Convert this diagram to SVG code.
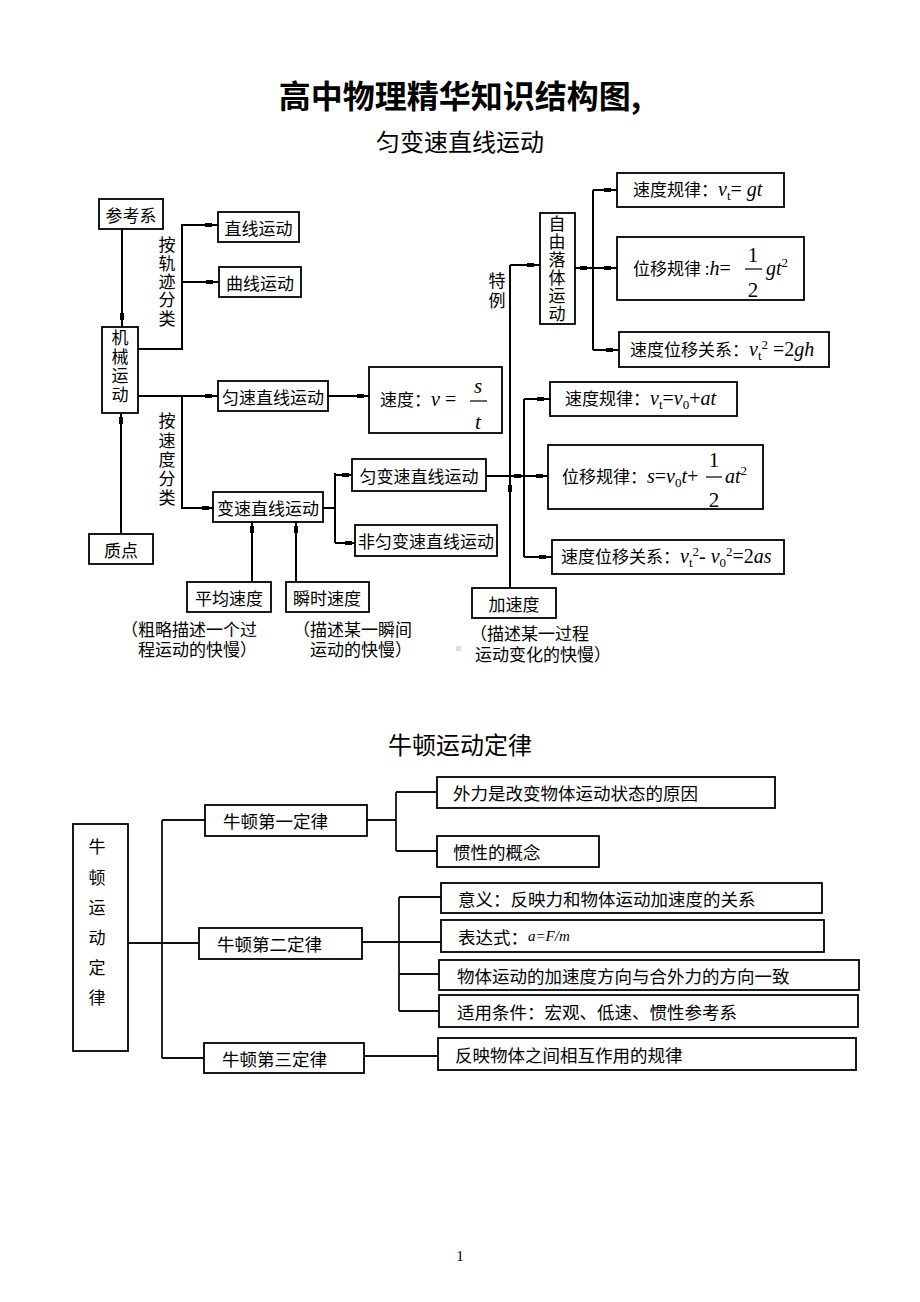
<svg xmlns="http://www.w3.org/2000/svg" width="920" height="1302" viewBox="0 0 920 1302">
<style>
.b{fill:#fff;stroke:#000;stroke-width:1.8}
.c{fill:none;stroke:#000;stroke-width:2}
.c2{fill:none;stroke:#111;stroke-width:1.8}
.k{fill:#000}
.t{font-family:"Noto Sans CJK SC","Liberation Sans",sans-serif;font-size:17px;fill:#000}
.tc{font-family:"Noto Sans CJK SC","Liberation Sans",sans-serif;font-size:17px;fill:#000;text-anchor:middle;dominant-baseline:central}
.v{font-family:"Noto Sans CJK SC","Liberation Sans",sans-serif;font-size:17px;fill:#000;writing-mode:vertical-rl;text-anchor:start}
.n{font-family:"Noto Sans CJK SC","Liberation Sans",sans-serif;font-size:17.5px;fill:#000;dominant-baseline:central}
.h{font-family:"Noto Sans CJK SC","Liberation Sans",sans-serif;fill:#000;text-anchor:middle}
.m{font-family:"Liberation Serif",serif;font-size:20px;font-style:italic}
.mr{font-family:"Liberation Serif",serif;font-size:20px;font-style:normal}
.ms{font-family:"Liberation Serif",serif;font-size:13px;font-style:normal}
.fd{font-family:"Liberation Serif",serif;font-size:21px;text-anchor:middle;fill:#000}
</style>
<rect width="920" height="1302" fill="#fff"/>

<g id="titles">
<text class="h" x="460" y="108" font-size="32" font-weight="bold">高中物理精华知识结构图,</text>
<text class="h" x="460" y="151" font-size="24">匀变速直线运动</text>
<text class="h" x="460" y="754" font-size="24">牛顿运动定律</text>
<text x="460" y="1261" font-family="Liberation Serif, serif" font-size="15" text-anchor="middle">1</text>
</g>

<g id="connectors">
<path class="c" d="M122 229V327"/><rect class="k" x="120" y="313" width="4" height="7"/>
<path class="c" d="M121 534V413"/><rect class="k" x="119" y="417" width="4" height="7"/>
<path class="c" d="M138 349H182V225H218M182 282H219"/>
<rect class="k" x="205" y="223" width="7" height="4"/><rect class="k" x="206" y="280" width="7" height="4"/>
<path class="c" d="M138 396H218M182 396V508H213"/>
<rect class="k" x="205" y="394" width="7" height="4"/><rect class="k" x="202" y="506" width="7" height="4"/>
<path class="c" d="M328 396H369"/><rect class="k" x="357" y="394" width="7" height="4"/>
<path class="c" d="M323 508H335M335 473V543M335 475H352M335 543H355"/>
<rect class="k" x="342" y="473" width="7" height="4"/><rect class="k" x="345" y="541" width="7" height="4"/>
<path class="c" d="M252 522V582M296 522V582"/>
<rect class="k" x="250" y="526" width="4" height="7"/><rect class="k" x="294" y="526" width="4" height="7"/>
<path class="c" d="M486 476H548M510 265V588M510 265H540M524 399V557M524 399H550M524 557H552"/>
<rect class="k" x="514" y="474" width="7" height="4"/><rect class="k" x="536" y="474" width="7" height="4"/>
<rect class="k" x="508" y="485" width="4" height="7"/>
<rect class="k" x="527" y="263" width="7" height="4"/>
<rect class="k" x="537" y="397" width="7" height="4"/><rect class="k" x="539" y="555" width="7" height="4"/>
<path class="c" d="M575 268H617M593 190V350M593 190H617M593 350H619"/>
<rect class="k" x="580" y="266" width="7" height="4"/><rect class="k" x="604" y="266" width="7" height="4"/>
<rect class="k" x="604" y="188" width="7" height="4"/><rect class="k" x="606" y="348" width="7" height="4"/>
<path class="c2" d="M128 943H199M162 820V1058M162 820H205M162 1058H204"/>
<path class="c2" d="M367 820H396M396 792V851M396 792H437M396 851H437"/>
<path class="c2" d="M362 942H441M399 897V1011M399 897H441M399 974H439M399 1011H439"/>
<path class="c2" d="M364 1056H438"/>
</g>

<g id="n-cankaoxi"><rect class="b" x="99" y="199" width="64" height="30"/><text class="tc" x="131" y="214">参考系</text></g>
<g id="n-zhixian"><rect class="b" x="218" y="212" width="81" height="30"/><text class="tc" x="258.5" y="227">直线运动</text></g>
<g id="n-quxian"><rect class="b" x="219" y="267" width="82" height="30"/><text class="tc" x="260" y="282">曲线运动</text></g>
<g id="n-jixie"><rect class="b" x="102" y="327" width="36" height="86"/>
<text class="v" x="120" y="329.5" letter-spacing="2">机械运动</text></g>
<g id="l-guiji"><text class="v" x="167" y="236.5" letter-spacing="1.3">按轨迹分类</text></g>
<g id="l-sudu"><text class="v" x="167" y="412.5" letter-spacing="2.2">按速度分类</text></g>
<g id="n-yunsu"><rect class="b" x="218" y="381" width="110" height="30"/><text class="tc" x="273" y="396">匀速直线运动</text></g>
<g id="n-sudu"><rect class="b" x="369" y="367" width="133" height="66"/>
<text class="t" x="380" y="406">速度：<tspan class="m">v</tspan><tspan class="mr"> = </tspan></text>
<text class="fd" x="478" y="393" font-style="italic">s</text>
<line x1="470" y1="401" x2="487" y2="401" stroke="#000" stroke-width="1.2"/>
<text class="fd" x="478" y="429" font-style="italic">t</text></g>
<g id="n-biansu"><rect class="b" x="213" y="492" width="110" height="30"/><text class="tc" x="268" y="507">变速直线运动</text></g>
<g id="n-zhidian"><rect class="b" x="89" y="534" width="64" height="30"/><text class="tc" x="121" y="549">质点</text></g>
<g id="n-yunbiansu"><rect class="b" x="352" y="459" width="134" height="32"/><text class="tc" x="419" y="475">匀变速直线运动</text></g>
<g id="n-feiyunbiansu"><rect class="b" x="355" y="525" width="142" height="31"/><text class="tc" x="426" y="540">非匀变速直线运动</text></g>
<g id="n-pingjun"><rect class="b" x="187" y="582" width="84" height="30"/><text class="tc" x="229" y="597">平均速度</text>
<text class="t" x="121" y="636">（粗略描述一个过<tspan x="138" dy="20">程运动的快慢）</tspan></text></g>
<g id="n-shunshi"><rect class="b" x="286" y="582" width="83" height="30"/><text class="tc" x="327" y="597">瞬时速度</text>
<text class="t" x="293" y="636">（描述某一瞬间<tspan x="310" dy="20">运动的快慢）</tspan></text></g>
<g id="n-jiasudu"><rect class="b" x="472" y="588" width="84" height="30"/><text class="tc" x="514" y="603">加速度</text>
<text class="t" x="470" y="640">（描述某一过程<tspan x="475" dy="21">运动变化的快慢）</tspan></text>
<rect x="456" y="646" width="5" height="5" fill="#ddd"/></g>
<g id="l-teli"><text class="v" x="497" y="272" letter-spacing="3">特例</text></g>
<g id="n-ziyou"><rect class="b" x="540" y="213" width="35" height="111"/>
<text class="v" x="557" y="215.5" letter-spacing="1">自由落体运动</text></g>
<g id="n-zy-sudu"><rect class="b" x="617" y="173" width="167" height="34"/>
<text class="t" x="633" y="196">速度规律：<tspan class="m">v</tspan><tspan class="ms" dy="4">t</tspan><tspan class="mr" dy="-4">= </tspan><tspan class="m">gt</tspan></text></g>
<g id="n-zy-weiyi"><rect class="b" x="617" y="237" width="187" height="63"/>
<text class="t" x="633" y="275">位移规律 :<tspan class="m">h</tspan><tspan class="mr">=</tspan></text>
<text class="fd" x="753" y="262">1</text>
<line x1="745" y1="269" x2="762" y2="269" stroke="#000" stroke-width="1.2"/>
<text class="fd" x="753" y="297">2</text>
<text class="t" x="766" y="275"><tspan class="m">gt</tspan><tspan class="ms" dy="-8">2</tspan></text></g>
<g id="n-zy-guanxi"><rect class="b" x="619" y="332" width="210" height="35"/>
<text class="t" x="630" y="356">速度位移关系：<tspan class="m">v</tspan><tspan class="ms" dy="4">t</tspan><tspan class="ms" dy="-11">2</tspan><tspan class="mr" dy="7"> =2</tspan><tspan class="m">gh</tspan></text></g>
<g id="n-yb-sudu"><rect class="b" x="550" y="382" width="187" height="34"/>
<text class="t" x="565" y="405">速度规律：<tspan class="m">v</tspan><tspan class="ms" dy="4">t</tspan><tspan class="mr" dy="-4">=</tspan><tspan class="m">v</tspan><tspan class="ms" dy="4">0</tspan><tspan class="mr" dy="-4">+</tspan><tspan class="m">at</tspan></text></g>
<g id="n-yb-weiyi"><rect class="b" x="548" y="445" width="215" height="64"/>
<text class="t" x="562" y="483">位移规律：<tspan class="m">s</tspan><tspan class="mr">=</tspan><tspan class="m">v</tspan><tspan class="ms" dy="4">0</tspan><tspan class="m" dy="-4">t</tspan><tspan class="mr">+</tspan></text>
<text class="fd" x="714" y="467">1</text>
<line x1="706" y1="477" x2="722" y2="477" stroke="#000" stroke-width="1.2"/>
<text class="fd" x="714" y="507">2</text>
<text class="t" x="725" y="483"><tspan class="m">at</tspan><tspan class="ms" dy="-8">2</tspan></text></g>
<g id="n-yb-guanxi"><rect class="b" x="552" y="540" width="232" height="34"/>
<text class="t" x="561" y="563">速度位移关系：<tspan class="m">v</tspan><tspan class="ms" dy="4">t</tspan><tspan class="ms" dy="-11">2</tspan><tspan class="mr" dy="7">- </tspan><tspan class="m">v</tspan><tspan class="ms" dy="4">0</tspan><tspan class="ms" dy="-11">2</tspan><tspan class="mr" dy="7">=2</tspan><tspan class="m">as</tspan></text></g>

<g id="n-niudun"><rect class="b" x="73" y="824" width="55" height="227"/>
<text class="v" x="97" y="838.5" letter-spacing="13.2">牛顿运动定律</text></g>
<g id="n-law1"><rect class="b" x="205" y="805" width="162" height="31"/><text class="n" x="223" y="820">牛顿第一定律</text></g>
<g id="n-law2"><rect class="b" x="199" y="928" width="163" height="31"/><text class="n" x="217" y="943">牛顿第二定律</text></g>
<g id="n-law3"><rect class="b" x="204" y="1043" width="160" height="30"/><text class="n" x="222" y="1058">牛顿第三定律</text></g>
<g id="n-waili"><rect class="b" x="437" y="777" width="338" height="31"/><text class="n" x="453" y="792">外力是改变物体运动状态的原因</text></g>
<g id="n-guanxing"><rect class="b" x="437" y="836" width="162" height="31"/><text class="n" x="453" y="851">惯性的概念</text></g>
<g id="n-yiyi"><rect class="b" x="441" y="883" width="381" height="30"/><text class="n" x="458" y="898">意义：反映力和物体运动加速度的关系</text></g>
<g id="n-biaodashi"><rect class="b" x="441" y="920" width="383" height="32"/><text class="n" x="458" y="936">表达式：<tspan font-family="Liberation Serif, serif" font-style="italic" font-size="15">a=F/m</tspan></text></g>
<g id="n-fangxiang"><rect class="b" x="439" y="960" width="420" height="30"/><text class="n" x="457" y="975">物体运动的加速度方向与合外力的方向一致</text></g>
<g id="n-shiyong"><rect class="b" x="439" y="995" width="419" height="32"/><text class="n" x="457" y="1011">适用条件：宏观、低速、惯性参考系</text></g>
<g id="n-fanying"><rect class="b" x="438" y="1038" width="418" height="32"/><text class="n" x="455" y="1054">反映物体之间相互作用的规律</text></g>
</svg>
